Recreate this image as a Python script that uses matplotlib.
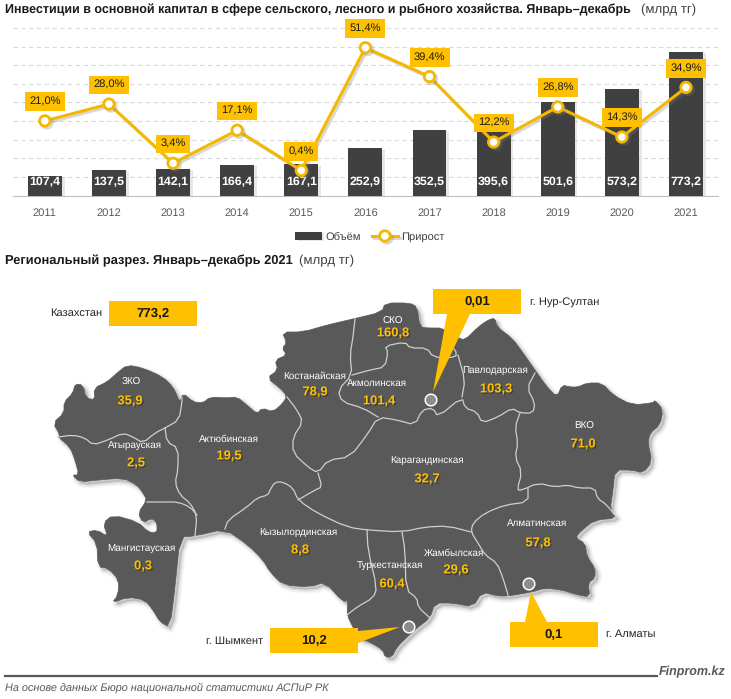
import matplotlib
matplotlib.use('Agg')
import matplotlib.pyplot as plt
import matplotlib.patheffects as pe
from matplotlib.patches import Polygon, Rectangle, Circle
from matplotlib.lines import Line2D
import numpy as np

plt.rcParams['font.family'] = ['Liberation Sans', 'DejaVu Sans']
plt.rcParams['text.hinting'] = 'no_hinting'
plt.rcParams['text.hinting_factor'] = 8

years = ['2011', '2012', '2013', '2014', '2015', '2016', '2017', '2018', '2019', '2020', '2021']
volume = [107.4, 137.5, 142.1, 166.4, 167.1, 252.9, 352.5, 395.6, 501.6, 573.2, 773.2]
growth = [21.0, 28.0, 3.4, 17.1, 0.4, 51.4, 39.4, 12.2, 26.8, 14.3, 34.9]

region_names = ['ЗКО', 'Костанайская', 'Атырауская', 'Актюбинская', 'СКО', 'Акмолинская', 'Павлодарская',
                'ВКО', 'Карагандинская', 'Мангистауская', 'Кызылординская', 'Туркестанская', 'Жамбылская', 'Алматинская']
region_values = [35.9, 78.9, 2.5, 19.5, 160.8, 101.4, 103.3, 71.0, 32.7, 0.3, 8.8, 60.4, 29.6, 57.8]

callout_names = ['Казахстан', 'г. Нур-Султан', 'г. Шымкент', 'г. Алматы']
callout_values = ['773,2', '0,01', '10,2', '0,1']

# map geometry, traced in image pixels
name_xy = [(131, 382), (315, 376), (135, 445), (229, 439), (393, 321), (377, 383), (495, 370),
           (584, 426), (427, 460), (141, 548), (298, 532), (390, 565), (454, 553), (537, 523)]
value_xy = [(130, 401), (315, 392), (136, 463), (229, 456), (393, 333), (379, 401), (496, 389),
            (583, 444), (427, 479), (143, 566), (300, 550), (392, 584), (456, 570), (538, 543)]

outline = [(53, 423), (64, 413), (64, 402), (73, 393), (75, 384), (83, 385), (86, 398), (95, 400),
           (94, 388), (107, 382), (117, 373), (127, 365), (143, 368), (163, 377), (173, 387),
           (178, 398), (180, 402), (183, 393), (193, 402), (203, 403), (210, 397), (227, 398), (237, 397),
           (247, 405), (257, 414), (262, 408), (273, 412), (283, 403), (287, 396), (280, 388), (267, 378),
           (278, 370), (275, 360), (287, 355), (282, 348), (287, 343), (282, 332), (303, 332), (327, 325),
           (353, 319), (382, 312), (385, 303), (410, 303), (417, 307), (420, 327), (427, 328), (443, 328),
           (458, 338), (465, 340), (478, 327), (488, 320), (495, 318), (497, 327), (512, 338), (523, 353),
           (537, 373), (547, 387), (557, 397), (562, 385), (570, 387), (578, 387), (587, 383), (602, 383),
           (613, 395), (632, 405), (653, 403), (655, 400), (663, 410), (660, 425), (650, 433), (648, 443),
           (652, 462), (643, 473), (632, 470), (615, 470), (613, 490), (610, 510), (617, 518), (595, 520),
           (582, 530), (575, 538), (585, 543), (587, 557), (595, 568), (595, 578), (588, 583), (590, 597),
           (578, 595), (562, 590), (545, 588), (532, 592), (508, 596), (498, 596), (482, 592), (473, 607),
           (453, 603), (435, 603), (430, 618), (417, 628), (407, 637), (397, 647), (392, 657), (385, 657),
           (383, 650), (370, 642), (358, 638), (353, 627), (347, 615), (348, 600), (343, 602), (325, 582),
           (310, 587), (283, 585), (270, 572), (263, 560), (248, 545), (225, 529), (195, 536), (180, 537),
           (175, 587), (170, 627), (160, 622), (153, 610), (145, 600), (128, 597), (112, 603), (118, 595),
           (119, 580), (108, 568), (98, 567), (97, 543), (87, 532), (97, 530), (108, 537), (103, 523),
           (113, 515), (138, 522), (148, 532), (157, 533), (157, 523), (152, 518), (143, 523), (138, 513),
           (147, 500), (143, 493), (137, 485), (123, 478), (98, 480), (80, 482), (72, 475), (79, 475),
           (75, 460), (70, 447), (58, 437), (60, 435)]

borders = [
    [(58, 437), (73, 435), (85, 438), (93, 445), (108, 440), (123, 433), (133, 437), (143, 443), (155, 433),
     (165, 428), (179, 420), (182, 402), (182, 397)],
    [(165, 428), (167, 442), (178, 448), (178, 470), (175, 483), (180, 495), (190, 503), (197, 515), (195, 536)],
    [(147, 502), (163, 502), (178, 502), (190, 507), (197, 515)],
    [(225, 529), (228, 520), (247, 507), (257, 498), (268, 495), (270, 490), (275, 482), (283, 482), (293, 488),
     (298, 500), (317, 513), (347, 527), (367, 530), (402, 532), (425, 527), (448, 526), (471, 532)],
    [(287, 397), (297, 410), (303, 422), (293, 437), (293, 453), (308, 467), (318, 473), (328, 460), (350, 457),
     (367, 435), (378, 417), (397, 420), (415, 425), (422, 410), (433, 408), (438, 417), (462, 397),
     (465, 408), (477, 412), (482, 423), (498, 417), (512, 408), (520, 413), (533, 413), (535, 403), (527, 388),
     (535, 373)],
    [(318, 473), (322, 487), (315, 490), (298, 500)],
    [(355, 319), (353, 337), (350, 355), (352, 375), (338, 390), (342, 402), (363, 408), (378, 417)],
    [(352, 375), (370, 370), (385, 367), (388, 352), (385, 346), (405, 342), (410, 348), (427, 348), (433, 357),
     (450, 358), (458, 355), (450, 343), (447, 331)],
    [(458, 355), (465, 380), (462, 397)],
    [(520, 413), (515, 427), (518, 443), (515, 457), (522, 472), (517, 490), (522, 490), (538, 483), (555, 487),
     (568, 485), (578, 488), (595, 488), (597, 498), (607, 505), (617, 518)],
    [(528, 488), (528, 502), (505, 505), (485, 513), (473, 523), (471, 532), (478, 543), (485, 555), (497, 563),
     (503, 578), (508, 595)],
    [(367, 530), (368, 550), (377, 588), (373, 598), (357, 607), (347, 615)],
    [(402, 532), (405, 550), (406, 590), (417, 598), (418, 607), (430, 618)],
]

dark = '#404040'
map_color = '#595959'
yellow = '#FFC000'
line_yellow = '#F4B800'


def soften(pts, closed):
    # one pass of corner cutting so the traced map is less jagged
    pts = np.array(pts, dtype=float)
    nxt = np.roll(pts, -1, axis=0)
    q = 0.75 * pts + 0.25 * nxt
    r = 0.25 * pts + 0.75 * nxt
    out = np.empty((len(pts) * 2, 2))
    out[0::2] = q
    out[1::2] = r
    if closed:
        return out
    return np.vstack([pts[0], out[:-2], pts[-1]])


fig = plt.figure(figsize=(7.31, 6.99), dpi=100)

# top chart
ax = fig.add_axes([12.8 / 731, 1 - 195.5 / 699, 705.2 / 731, 168.5 / 699])
x = np.arange(len(years))
bars = ax.bar(x, volume, width=0.53, color=dark, zorder=3, label='Объём')
for b in bars:
    b.set_path_effects([pe.SimplePatchShadow(offset=(2, -1), shadow_rgbFace='#A0A0A0', alpha=0.25), pe.Normal()])
ax.set_xlim(-0.5, 10.5)
ax.set_ylim(0, 905)
ax.set_yticks(np.arange(0, 901, 100))
ax.set_xticks(x)
ax.set_xticklabels(years, fontsize=8, color='#595959')
ax.grid(axis='y', color='#D9D9D9', linestyle=(0, (4, 3)), linewidth=0.8, zorder=0)
for side in ['top', 'left', 'right']:
    ax.spines[side].set_visible(False)
ax.spines['bottom'].set_color('#BFBFBF')

for xi, v in zip(x, volume):
    ax.annotate(f'{v:.1f}'.replace('.', ','), (xi, 0), xytext=(0, 9.8), textcoords='offset points',
                ha='center', va='center', color='white', fontsize=8.9, fontweight='bold', zorder=4)

ax2 = ax.twinx()
ax2.set_ylim(-10, 60)
ax2.axis('off')
ax.tick_params(axis='y', left=False, labelleft=False, right=False, labelright=False)
ax.tick_params(axis='x', length=0, pad=9)
line, = ax2.plot(x, growth, color=line_yellow, linewidth=2.2, marker='o', markersize=7.5,
                 markerfacecolor='white', markeredgecolor=line_yellow, markeredgewidth=2.0, label='Прирост')
line.set_path_effects([pe.SimpleLineShadow(offset=(1.5, -1.5), shadow_color='#808080', alpha=0.3), pe.Normal()])
for xi, g in zip(x, growth):
    ax2.annotate(f'{g:.1f}%'.replace('.', ','), (xi, g), xytext=(0, 13.8), textcoords='offset points',
                 ha='center', va='center', fontsize=8, color='#1A1A1A',
                 bbox=dict(boxstyle='square,pad=0.38', facecolor=yellow, edgecolor='none'))

fig.legend(handles=[bars, line], loc='center', bbox_to_anchor=(370 / 731, 1 - 237 / 699), ncol=2, frameon=False,
           fontsize=8, labelcolor='#404040', handlelength=2.4, columnspacing=1.0, handletextpad=0.3)

# overlay in image pixels for the map and the texts
over = fig.add_axes([0, 0, 1, 1])
over.set_xlim(0, 731)
over.set_ylim(699, 0)
over.axis('off')
over.patch.set_alpha(0)

over.text(5, 9.5, 'Инвестиции в основной капитал в сфере сельского, лесного и рыбного хозяйства. Январь–декабрь',
          fontsize=9, fontweight='bold', color='#1A1A1A', va='center')
over.text(641, 9.5, '(млрд тг)', fontsize=9.5, color='#404040', va='center')
over.text(5, 261, 'Региональный разрез. Январь–декабрь 2021', fontsize=9.25, fontweight='bold', color='#1A1A1A', va='center')
over.text(299, 261, '(млрд тг)', fontsize=9.5, color='#404040', va='center')

# soft shadow under the country
soft_outline = soften(outline, True)
for lw, a in zip([6, 4, 2], [0.04, 0.06, 0.1]):
    over.add_patch(Polygon(soft_outline + 3, closed=True, facecolor='#404040', edgecolor='#404040', linewidth=lw,
                           alpha=a, joinstyle='round', zorder=1))
over.add_patch(Polygon(soft_outline, closed=True, facecolor=map_color, edgecolor=map_color, linewidth=0.5, zorder=2))
for b in borders:
    sb = soften(b, False)
    over.add_line(Line2D(sb[:, 0], sb[:, 1], color='#CFCFCF', linewidth=0.9, zorder=3))

shadow = [pe.withSimplePatchShadow(offset=(1, -1), shadow_rgbFace='#202020', alpha=0.45)]
for name, v, nxy, vxy in zip(region_names, region_values, name_xy, value_xy):
    over.text(nxy[0], nxy[1], name, color='white', fontsize=7.1, ha='center', va='center', zorder=6)
    over.text(vxy[0], vxy[1], f'{v:.1f}'.replace('.', ','), color=yellow, fontsize=9.3, fontweight='bold',
              ha='center', va='center', zorder=6, path_effects=shadow)

# callouts
boxes = [(109, 301), (433, 289), (270, 628), (510, 622)]
box_w, box_h = 88, 24.5
pointers = [None,
            [(447, 314), (470, 314), (433, 392)],
            [(358, 631), (400, 627), (358, 643)],
            [(525, 622), (547, 622), (531, 592)]]
name_pos = [(102, 313, 'right'), (530, 302, 'left'), (263, 641, 'right'), (606, 634, 'left')]
for cname, cval, box, ptr, pos in zip(callout_names, callout_values, boxes, pointers, name_pos):
    over.add_patch(Rectangle(box, box_w, box_h, facecolor=yellow, edgecolor='none', zorder=7))
    if ptr:
        over.add_patch(Polygon(ptr, closed=True, facecolor=yellow, edgecolor='none', zorder=7))
    over.text(box[0] + box_w / 2, box[1] + box_h / 2, cval, fontsize=9.5, fontweight='bold', color='#1A1A1A',
              ha='center', va='center', zorder=8)
    over.text(pos[0], pos[1], cname, fontsize=8, color='#262626', ha=pos[2], va='center', zorder=8)

for cx, cy in [(431, 400), (409, 627), (529, 584)]:
    over.add_patch(Circle((cx, cy), 5.8, facecolor='#8C8C8C', edgecolor='white', linewidth=1.1, zorder=8))

# footer
over.add_line(Line2D([5, 657], [676, 676], color=map_color, linewidth=1.6, zorder=2))
over.text(659, 672, 'Finprom.kz', fontsize=9, fontweight='bold', fontstyle='italic', color='#595959', va='center')
over.text(5, 688, 'На основе данных Бюро национальной статистики АСПиР РК', fontsize=7.85, fontstyle='italic',
          color='#595959', va='center')

fig.savefig('out.png', dpi=100)
